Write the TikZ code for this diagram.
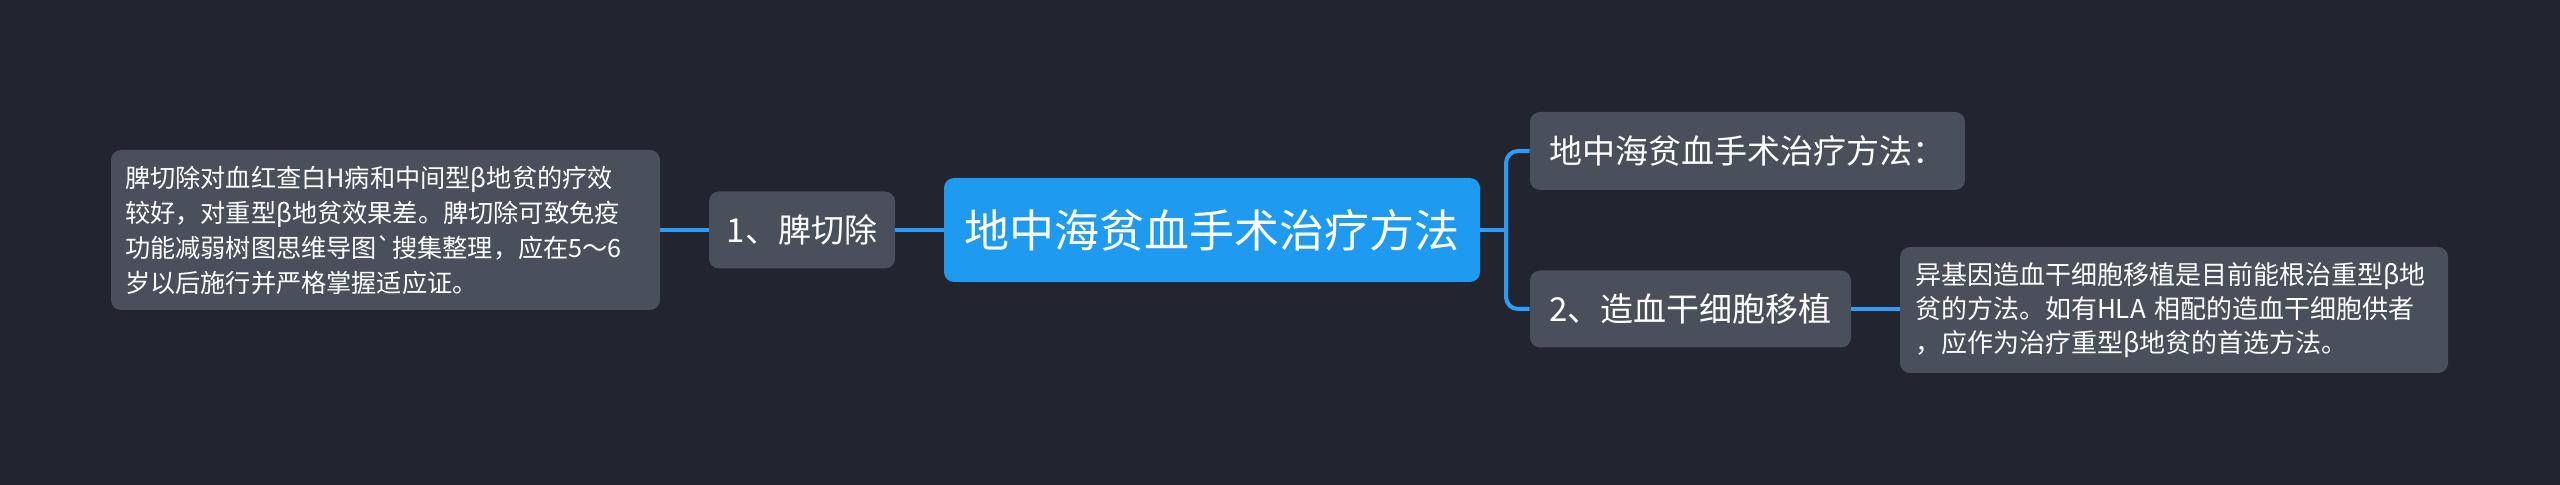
\documentclass[tikz,border=0pt]{standalone}
\usepackage{fontspec}
\newfontfamily\cjk{Noto Sans CJK SC}
\usetikzlibrary{positioning, calc}
\definecolor{bgdark}{HTML}{22252F}
\definecolor{boxgray}{HTML}{4A4F5C}
\definecolor{rootblue}{HTML}{1E9BF0}
\definecolor{linkblue}{HTML}{2A9DF4}

\begin{document}
\begin{tikzpicture}[x=0.5pt, y=-0.5pt]
% 节点样式
\tikzstyle{topic} = [rectangle, rounded corners=5pt, fill=boxgray, text=white, inner sep=0pt, font=\cjk\fontsize{16.5pt}{20pt}\selectfont]
\tikzstyle{center} = [topic, fill=rootblue, font=\cjk\fontsize{22.5pt}{27pt}\selectfont]
\tikzstyle{note} = [topic, align=left, inner xsep=7pt, font=\cjk\fontsize{13pt}{17pt}\selectfont]
\tikzstyle{link} = [draw=linkblue, line width=2pt]

% 背景
\fill[bgdark] (0,0) rectangle (2560,485);
\useasboundingbox (0,0) rectangle (2560,485);

% 中心主题与分支
\node [center, minimum width=268pt, minimum height=52pt] (root) at (1212,230) {地中海贫血手术治疗方法};
\node [topic, minimum width=93pt, minimum height=38.5pt] (spleen) at (802,230) {1、脾切除};
\node [note, text width=260.5pt, minimum height=80pt, font=\cjk\fontsize{12.6pt}{17.5pt}\selectfont] (spleennote) at (385.5,230) {脾切除对血红查白H病和中间型β地贫的疗效\\较好，对重型β地贫效果差。脾切除可致免疫\\功能减弱树图思维导图`搜集整理，应在5～6\\岁以后施行并严格掌握适应证。};
\node [topic, minimum width=217.5pt, minimum height=39pt] (method) at (1747.5,151) {地中海贫血手术治疗方法：};
\node [topic, minimum width=160.5pt, minimum height=38.5pt] (stem) at (1690.5,309) {2、造血干细胞移植};
\node [note, text width=259pt, inner xsep=7.5pt, minimum height=63pt] (stemnote) at (2174,310) {异基因造血干细胞移植是目前能根治重型β地\\贫的方法。如有HLA 相配的造血干细胞供者\\，应作为治疗重型β地贫的首选方法。};

% 连线
\coordinate (fork) at (1506,230);
\path [link] (root.west) -- (spleen.east);
\path [link] (spleen.west) -- (spleennote.east);
\path [link] (root.east) -- (fork);
\path [link, rounded corners=6pt] (fork) |- (method.west);
\path [link, rounded corners=6pt] (fork) |- (stem.west);
\path [link] (stem.east) -- (stem.east -| stemnote.west);
\end{tikzpicture}
\end{document}
